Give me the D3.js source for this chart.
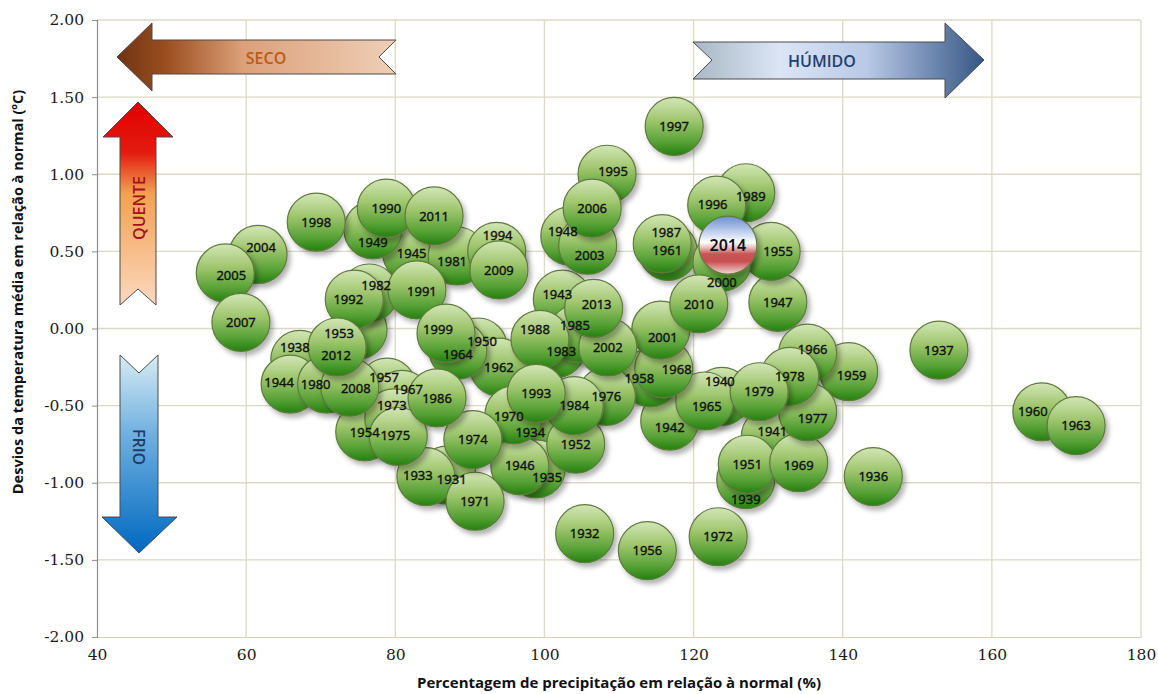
<!DOCTYPE html>
<html>
<head>
<meta charset="utf-8">
<script src="https://cdn.jsdelivr.net/npm/d3@7"></script>
<style>
  html, body { margin: 0; padding: 0; background: #fff; }
  svg { display: block; }
</style>
</head>
<body>
<div id="chart"></div>
<script>
// anos e valores (precipitação em % da normal, desvio de temperatura em ºC)
var years = [1931, 1932, 1933, 1934, 1935, 1936, 1937, 1938, 1939, 1940,
  1941, 1942, 1943, 1944, 1945, 1946, 1947, 1948, 1949, 1950,
  1951, 1952, 1953, 1954, 1955, 1956, 1957, 1958, 1959, 1960,
  1961, 1962, 1963, 1964, 1965, 1966, 1967, 1968, 1969, 1970,
  1971, 1972, 1973, 1974, 1975, 1976, 1977, 1978, 1979, 1980,
  1981, 1982, 1983, 1984, 1985, 1986, 1987, 1988, 1989, 1990,
  1991, 1992, 1993, 1994, 1995, 1996, 1997, 1998, 1999, 2000,
  2001, 2002, 2003, 2004, 2005, 2006, 2007, 2008, 2009, 2010,
  2011, 2012, 2013, 2014]

var precip = [86.9, 105.4, 84.1, 97.7, 98.9, 144.1, 152.9, 67.2, 127.0, 123.8,
  130.3, 116.8, 102.4, 65.9, 82.2, 96.7, 131.3, 103.4, 77.0, 91.1,
  127.2, 104.2, 75.0, 75.9, 130.4, 113.8, 78.9, 114.2, 140.8, 166.7,
  116.6, 93.9, 171.3, 88.4, 121.5, 135.3, 80.9, 116.0, 134.1, 95.9,
  90.7, 123.3, 79.8, 90.4, 80.4, 108.3, 135.3, 132.9, 128.8, 70.8,
  88.3, 76.5, 101.6, 104.0, 104.5, 85.6, 115.8, 99.4, 127.0, 78.8,
  82.9, 74.5, 98.9, 93.6, 108.4, 123.1, 117.4, 69.4, 86.8, 123.8,
  115.6, 108.5, 105.8, 61.6, 57.2, 106.4, 59.3, 73.9, 93.9, 120.7,
  85.2, 72.2, 106.6, 124.6]

var temp = [-0.95, -1.33, -0.96, -0.64, -0.91, -0.96, -0.14, -0.20, -0.98, -0.44,
  -0.70, -0.60, 0.19, -0.36, 0.49, -0.89, 0.17, 0.60, 0.64, -0.12,
  -0.88, -0.75, -0.01, -0.67, 0.50, -1.44, -0.38, -0.32, -0.28, -0.54,
  0.50, -0.25, -0.63, -0.14, -0.47, -0.16, -0.46, -0.26, -0.87, -0.56,
  -1.12, -1.35, -0.58, -0.72, -0.70, -0.44, -0.54, -0.31, -0.41, -0.36,
  0.47, 0.23, -0.13, -0.50, -0.03, -0.45, 0.55, -0.07, 0.88, 0.78,
  0.25, 0.19, -0.42, 0.50, 1.00, 0.80, 1.31, 0.69, -0.03, 0.43,
  -0.01, -0.12, 0.54, 0.48, 0.36, 0.78, 0.04, -0.38, 0.38, 0.16,
  0.73, -0.12, 0.13, 0.54]

var xTicks = [40, 60, 80, 100, 120, 140, 160, 180]
var yTicks = [-2, -1.5, -1, -0.5, 0, 0.5, 1, 1.5, 2]

var highlightYear = 2014

// deslocamento das etiquetas (px) onde foram afastadas do centro da bolha
var labelShift = {
  1931: [5, 4], 1933: [-8, -1], 1934: [3, 5], 1935: [11, 8], 1938: [-5, -12],
  1939: [0, 20], 1940: [-2, -15], 1941: [2, -5], 1942: [0, 6], 1943: [-5, -5],
  1944: [-11, -2], 1948: [-7, -5], 1949: [0, 13], 1950: [4, -6], 1953: [-19, 3],
  1955: [7, 0], 1957: [-3, -10], 1958: [-11, 0], 1959: [3, 4], 1960: [-9, 0],
  1961: [-1, -1], 1964: [0, 4], 1965: [2, 5], 1966: [5, -4], 1967: [6, -10],
  1968: [13, 1], 1969: [0, 3], 1970: [-5, 1], 1973: [-2, -13], 1975: [-3, -1],
  1977: [5, 7], 1980: [-11, 0], 1981: [-5, 5], 1982: [7, -8], 1983: [5, 3],
  1985: [-3, -8], 1987: [4, -11], 1988: [-5, -10], 1989: [5, 4], 1991: [5, 1],
  1992: [-6, 0], 1994: [1, -16], 1995: [6, -3], 1996: [-4, -1], 1999: [-8, -4],
  2000: [0, 20], 2001: [2, 7], 2003: [2, 10], 2004: [3, -7], 2005: [6, 2],
  2008: [6, 1], 2012: [-1, 8], 2013: [3, -4]
}

var width = 1158
var height = 694
var plot = { left: 97, right: 1141, top: 20, bottom: 637 }
var radius = 29

var svg = d3.select('#chart').append('svg')
  .attr('width', width)
  .attr('height', height)

var defs = svg.append('defs')

function linGrad (id, vertical, stops) {
  var g = defs.append('linearGradient').attr('id', id)
    .attr('x1', 0).attr('y1', 0)
    .attr('x2', vertical ? 0 : 1).attr('y2', vertical ? 1 : 0)
  stops.forEach(function (s) {
    g.append('stop').attr('offset', s[0]).attr('stop-color', s[1])
  })
}

linGrad('bubble', true, [[0, '#d3e6b6'], [0.4, '#9fc66e'], [0.78, '#55a034'], [1, '#23800e']])
linGrad('bubble2014', true, [[0, '#6d8fd0'], [0.2, '#a8bde6'], [0.45, '#ffffff'],
  [0.55, '#e9b5b5'], [0.65, '#c85555'], [0.78, '#c95050'], [1, '#f3d9d9']])
linGrad('seco', false, [[0, '#6e3414'], [0.18, '#9c4f1f'], [0.45, '#dca07a'], [1, '#efcfb6']])
linGrad('humido', false, [[0, '#a9b8c4'], [0.3, '#dbe5f6'], [0.6, '#b8c8e6'], [1, '#355684']])
linGrad('quente', true, [[0, '#e00000'], [0.25, '#e31c10'], [0.45, '#f2a150'], [1, '#fbd8bf']])
linGrad('frio', true, [[0, '#d6ebf2'], [0.4, '#6fb0e0'], [1, '#0068c0']])

var shadow = defs.append('filter').attr('id', 'shadow')
  .attr('x', '-30%').attr('y', '-30%').attr('width', '170%').attr('height', '170%')
shadow.append('feDropShadow')
  .attr('dx', 3).attr('dy', 4).attr('stdDeviation', 2.5)
  .attr('flood-color', '#000').attr('flood-opacity', 0.3)

var x = d3.scaleLinear().domain([40, 180]).range([plot.left, plot.right])
var y = d3.scaleLinear().domain([-2, 2]).range([plot.bottom, plot.top])

var fmtY = function (v) { return d3.format('.2f')(v).replace('\u2212', '-') }

// grelha
var grid = svg.append('g')
grid.selectAll('line.vg')
  .data(xTicks.slice(1))
  .enter().append('line')
  .attr('x1', function (d) { return x(d) }).attr('x2', function (d) { return x(d) })
  .attr('y1', plot.top).attr('y2', plot.bottom)
  .attr('stroke', '#dcd9c4').attr('stroke-width', 1.3)
grid.selectAll('line.hg')
  .data(yTicks.slice(1))
  .enter().append('line')
  .attr('x1', plot.left).attr('x2', plot.right)
  .attr('y1', function (d) { return y(d) }).attr('y2', function (d) { return y(d) })
  .attr('stroke', '#dcd9c4').attr('stroke-width', 1.3)

// eixos
var xAxis = svg.append('g')
  .attr('transform', 'translate(0,' + plot.bottom + ')')
  .call(d3.axisBottom(x).tickValues(xTicks).tickSize(0).tickPadding(12).tickFormat(d3.format('d')))
var yAxis = svg.append('g')
  .attr('transform', 'translate(' + plot.left + ',0)')
  .call(d3.axisLeft(y).tickValues(yTicks).tickSize(5).tickPadding(8).tickFormat(fmtY))

;[xAxis, yAxis].forEach(function (a) {
  a.attr('font-family', null).attr('font-size', null)
  a.select('.domain').attr('stroke', '#8c8c8c').attr('stroke-width', 1.2)
  a.selectAll('.tick line').attr('stroke', '#8c8c8c')
  a.selectAll('.tick text')
    .attr('fill', '#1a1a1a')
    .attr('font-family', '"DejaVu Serif", "Liberation Serif", serif')
    .attr('font-size', '15.5px')
})
xAxis.select('.domain').attr('stroke', '#d6d3bc')

svg.append('text')
  .attr('x', (plot.left + plot.right) / 2)
  .attr('y', 688)
  .attr('text-anchor', 'middle')
  .attr('font-family', '"Open Sans", "Noto Sans", sans-serif')
  .attr('font-weight', 'bold')
  .attr('font-size', '15px')
  .attr('fill', '#111')
  .text('Percentagem de precipitação em relação à normal (%)')

svg.append('text')
  .attr('transform', 'translate(23,292) rotate(-90)')
  .attr('text-anchor', 'middle')
  .attr('font-family', '"Open Sans", "Noto Sans", sans-serif')
  .attr('font-weight', 'bold')
  .attr('font-size', '14.5px')
  .attr('fill', '#111')
  .text('Desvios da temperatura média em relação à normal  (ºC)')

// setas
function arrow (points, fill) {
  return svg.append('path')
    .attr('d', 'M' + points.map(function (p) { return p.join(',') }).join('L') + 'Z')
    .attr('fill', fill)
    .attr('stroke', '#4a4a4a')
    .attr('stroke-width', 1)
}

arrow([[117, 57], [152, 23], [152, 40], [396, 40], [379, 57], [396, 74], [152, 74], [152, 91]], 'url(#seco)')
arrow([[984, 60], [945, 23], [945, 42], [693, 42], [712, 60], [693, 79], [945, 79], [945, 98]], 'url(#humido)')
arrow([[138, 102], [173, 137], [156, 137], [156, 305], [138, 289], [120, 305], [120, 137], [103, 137]], 'url(#quente)')
arrow([[139, 553], [177, 517], [158, 517], [158, 355], [139, 373], [120, 355], [120, 517], [102, 517]], 'url(#frio)')

function arrowLabel (tx, ty, rot, txt, color) {
  svg.append('text')
    .attr('transform', 'translate(' + tx + ',' + ty + ') rotate(' + rot + ')')
    .attr('text-anchor', 'middle')
    .attr('dy', '0.36em')
    .attr('font-family', '"Open Sans", "Noto Sans", sans-serif')
    .attr('font-weight', '600')
    .attr('font-size', '16px')
    .attr('fill', color)
    .text(txt)
}
arrowLabel(266, 58, 0, 'SECO', '#b85c18')
arrowLabel(822, 61, 0, 'HÚMIDO', '#233f6e')
arrowLabel(139, 208, -90, 'QUENTE', '#a5121b')
arrowLabel(139, 447, 90, 'FRIO', '#1f3b66')

// bolhas
var points = years.map(function (yr, i) {
  return { year: yr, p: precip[i], t: temp[i] }
})

var bubbles = svg.append('g').selectAll('g.bubble')
  .data(points)
  .enter().append('g')
  .classed('bubble', true)
  .attr('transform', function (d) { return 'translate(' + x(d.p) + ',' + y(d.t) + ')' })

bubbles.append('circle')
  .attr('r', radius)
  .attr('fill', function (d) { return d.year === highlightYear ? 'url(#bubble2014)' : 'url(#bubble)' })
  .attr('stroke', '#5f7a3c')
  .attr('stroke-width', 1.2)
  .attr('filter', 'url(#shadow)')

// etiquetas por cima de todas as bolhas
svg.append('g').selectAll('text')
  .data(points)
  .enter().append('text')
  .attr('x', function (d) { return x(d.p) + (labelShift[d.year] ? labelShift[d.year][0] : 0) })
  .attr('y', function (d) { return y(d.t) + (labelShift[d.year] ? labelShift[d.year][1] : 0) })
  .attr('dy', '0.36em')
  .attr('text-anchor', 'middle')
  .attr('font-family', '"Noto Sans", "Open Sans", sans-serif')
  .attr('font-size', function (d) { return d.year === highlightYear ? '16px' : '13px' })
  .attr('font-weight', function (d) { return d.year === highlightYear ? '600' : 'normal' })
  .attr('fill', '#111')
  .attr('stroke', '#111')
  .attr('stroke-width', function (d) { return d.year === highlightYear ? 0 : 0.35 })
  .text(function (d) { return d.year })
</script>
</body>
</html>
